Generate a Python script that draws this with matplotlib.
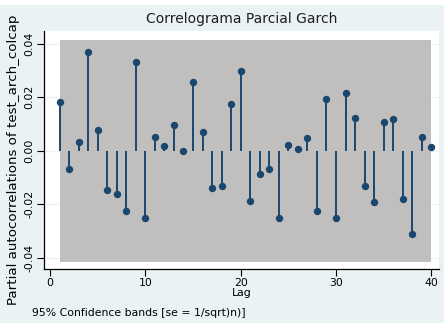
import numpy as np
import matplotlib
matplotlib.use("Agg")
import matplotlib.pyplot as plt
from matplotlib.patches import Rectangle

# partial autocorrelations, lags 1..40
lags = list(range(1, 41))
pacf_vals = [
    0.0181, -0.0068, 0.0034, 0.0367, 0.0077, -0.0148, -0.0160, -0.0225, 0.0332, -0.0249,
    0.0052, 0.0017, 0.0095, -0.0001, 0.0257, 0.0070, -0.0140, -0.0131, 0.0176, 0.0298,
    -0.0188, -0.0085, -0.0068, -0.0252, 0.0021, 0.0008, 0.0048, -0.0224, 0.0195, -0.0252,
    0.0215, 0.0123, -0.0133, -0.0191, 0.0108, 0.0117, -0.0181, -0.0310, 0.0050, 0.0016,
]
conf_band = 0.0415  # 95% band, se = 1/sqrt(n)

xticks = [0, 10, 20, 30, 40]
yticks = [-0.04, -0.02, 0.00, 0.02, 0.04]
ytick_labels = ["-0.04", "-0.02", "0.00", "0.02", "0.04"]

BG = "#eaf2f3"
NAVY = "#1a476f"
BAND = "#c0bfbd"

plt.rcParams["font.family"] = ["DejaVu Sans"]

fig = plt.figure(figsize=(4.44, 3.28), dpi=100)
fig.patch.set_facecolor("white")
# stata graph region
fig.patches.append(Rectangle((0, 5 / 328), 1, 318 / 328, transform=fig.transFigure,
                             facecolor=BG, edgecolor="none", zorder=-10))

ax = fig.add_axes([44 / 444, 1 - 268.5 / 328, (439 - 44) / 444, (268.5 - 31) / 328])
ax.set_facecolor("white")

x = np.array(lags)
y = np.array(pacf_vals)
band = np.full(len(x), conf_band)
ax.fill_between(x, -band, band, color=BAND, linewidth=0, zorder=1)
ax.vlines(x, 0, y, color=NAVY, linewidth=1.4, zorder=3)
ax.plot(x, y, "o", color=NAVY, markersize=4.3, zorder=4)

ax.set_xlim(-0.63, 40.8)
ax.set_ylim(-0.0439, 0.0447)
ax.set_xticks(xticks)
ax.set_yticks(yticks)
ax.set_yticklabels(ytick_labels, rotation=90, va="center")
ax.tick_params(axis="both", direction="out", length=5, width=0.8, labelsize=7.8, pad=2)
ax.grid(axis="y", color=BG, linewidth=0.8, zorder=0)
ax.set_axisbelow(True)

for side in ("top", "right"):
    ax.spines[side].set_visible(False)
for side in ("left", "bottom"):
    ax.spines[side].set_linewidth(0.9)

ax.set_xlabel("Lag", fontsize=7.8, labelpad=0)
ax.set_ylabel("Partial autocorrelations of test_arch_colcap", fontsize=9.6)
ax.yaxis.set_label_coords(-0.061, 0.457)

fig.text(242 / 444, 1 - 19 / 328, "Correlograma Parcial Garch", ha="center", va="center",
         fontsize=10, color="#1e1e1e")
fig.text(32 / 444, 1 - 313 / 328, "95% Confidence bands [se = 1/sqrt)n)]", ha="left",
         va="center", fontsize=7.8)

fig.savefig("out.png", dpi=100, facecolor=fig.get_facecolor())
